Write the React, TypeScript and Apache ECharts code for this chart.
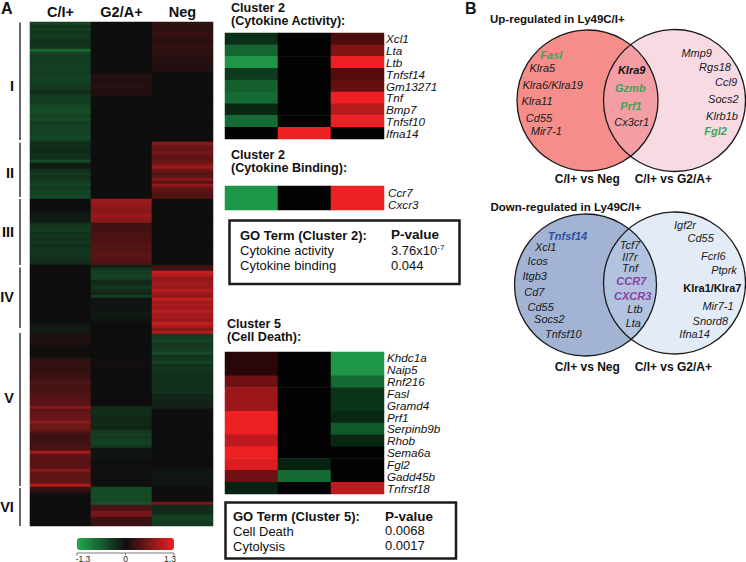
import React, { useEffect, useRef } from "react";
import * as echarts from "echarts";

const FONT = "'Liberation Sans', Arial, sans-serif";

// ---- Main heatmap: one value per row (top to bottom), by cluster ----
const mainColumns = ["C/I+", "G2/A+", "Neg"];
const c1I = [-0.45,-0.32,-0.42,-0.32,-0.4,-0.33,-0.28,-0.32,-0.33,-0.72,-0.42,-0.38,-0.4,-0.4,-0.38,-0.42,-0.4,-0.4,-0.45,-0.42,-0.42,-0.36,-0.33,-0.25,-0.36,-0.4,-0.4,-0.42,-0.48,-0.52,-0.5,-0.42,-0.52,-0.4,-0.42,-0.45,-0.42,-0.45,-0.48,-0.42];
const c1II = [-0.25,-0.28,-0.25,-0.22,-0.28,-0.28,-0.48,-0.12,-0.12,-0.28,-0.34,-0.3,-0.32,-0.38,-0.45,-0.36,-0.45,-0.45,-0.48];
const c1III = [0,0,0,0,-0.04,-0.08,-0.1,-0.14,-0.3,-0.34,-0.38,-0.3,-0.34,-0.3,-0.34,-0.3,-0.3,-0.33,-0.33,-0.3,-0.25,-0.25];
const c1IV = [0,0,0,0,0,0,0,0,0,0,0,0,0,0,0,0,0,0,0,-0.06,-0.1,-0.12,-0.08];
const c1V = [0.1,0.12,0.1,0.08,0.02,0.02,0.02,0.02,0.18,0.2,0.22,0.2,0.22,0.26,0.24,0.34,0.36,0.34,0.32,0.36,0.38,0.42,0.44,0.42,0.72,0.46,0.5,0.52,0.55,0.72,0.55,0.58,0.42,0.3,0.28,0.3,0.28,0.34,0.38,0.88,0.46,0.44,0.44,0.44,0.46,0.7,0.48,0.5,0.46,0.48,0.95];
const c1VI = [0.25,0.2,0,0,0,0,0,0,0,0,0,0,0];
const c2I = [0,0,0,0,0,0,0,0,0,0,0,0,0,0,0,0,0,0.1,0.12,0.1,0.12,0.14,0.12,0.1,0.1,0,0,0,0,0,0,0,0,0,0,0,0,0,0,0];
const c2II = [0,0,0,0,0,0,0,0,0,0,0,0,0,0,0,0,0,0,0];
const c2III = [0.85,0.78,0.74,0.7,0.72,0.82,0.74,0.7,0.28,0.32,0.3,0.34,0.34,0.38,0.38,0.42,0.4,0.42,0.45,0.42,0.42,0.38];
const c2IV = [-0.15,-0.35,-0.38,-0.42,-0.42,-0.22,-0.25,-0.35,-0.25,-0.2,-0.38,-0.05,-0.05,-0.06,-0.05,-0.08,-0.1,-0.08,-0.05,0,0,0,0];
const c2V = [0,0,0,0,0,0,0,0,0.02,0.02,0.03,0,0,0,0,0,0,0,0,0,0,0,0,0,-0.22,-0.26,-0.26,-0.22,-0.18,-0.22,-0.22,-0.18,-0.34,-0.38,-0.36,-0.42,-0.42,-0.36,-0.05,-0.07,-0.05,-0.05,-0.02,-0.02,-0.02,-0.02,-0.02,-0.02,-0.02,-0.02,-0.02];
const c2VI = [-0.48,-0.52,-0.5,-0.52,-0.48,-0.56,0.34,0.38,0.62,0.58,0.3,0.26,0.26];
const c3I = [0.2,0.17,0.19,0.2,0.24,0.17,0.16,0.2,0.24,0.17,0.16,0.16,0.13,0.13,0.13,0.1,0.1,0,0,0,0,0,0,0,0,0,0,0,0,0,0,0,0,0,0,0,0,0,0,0];
const c3II = [0.72,0.56,0.48,0.6,0.5,0.46,0.5,0.65,0.85,0.56,0.42,0.42,0.7,0.42,0.74,0.5,0.46,0.38,0.42];
const c3III = [0,0,0,0,0,0,0,0,0,0,0,0,0,0,0,0,0,0,0,0,0,0];
const c3IV = [0.28,0.3,1.1,0.95,0.75,0.82,0.86,0.78,0.95,0.82,0.78,1.05,0.85,0.9,0.82,1.0,0.86,0.9,0.78,1.05,0.9,0.7,0.95];
const c3V = [-0.36,-0.4,-0.44,-0.34,-0.36,-0.4,-0.5,-0.3,-0.34,-0.44,-0.3,-0.34,-0.3,-0.27,-0.27,-0.27,-0.3,-0.27,-0.27,-0.3,-0.2,-0.2,-0.17,-0.17,-0.15,0,0,0,0,0,0,0,0,0,0,0,0,0,0,0,0,0,0,0,0,-0.06,-0.06,-0.08,-0.06,-0.06,-0.06];
const c3VI = [0,0,0,0,0,0.6,-0.22,-0.26,-0.22,-0.36,-0.42,-0.4,-0.36];

// ---- Gene-level heatmaps ----
const activityGenes = ["Xcl1","Lta","Ltb","Tnfsf14","Gm13271","Tnf","Bmp7","Tnfsf10","Ifna14"];
const activityC = [-0.35,-0.8,-1.2,-0.45,-0.75,-0.85,-0.3,-0.85,0];
const activityG = [0,0,0,0,0,0,0,0,1.3];
const activityN = [0.4,0.7,1.3,0.45,0.55,1.3,1.0,1.3,0];

const bindingGenes = ["Ccr7","Cxcr3"];
const bindingC = [-1.2,-1.2];
const bindingG = [0,0];
const bindingN = [1.3,1.3];

const deathGenes = ["Khdc1a","Naip5","Rnf216","Fasl","Gramd4","Prf1","Serpinb9b","Rhob","Sema6a","Fgl2","Gadd45b","Tnfrsf18"];
const deathC = [0.2,0.2,0.6,0.85,0.85,1.3,1.3,1.05,1.3,1.2,0.6,-0.25];
const deathG = [0,0,0,0,0,0,0,0,0,-0.25,-0.85,0];
const deathN = [-1.2,-1.2,-0.85,-0.4,-0.4,-0.3,-0.7,-0.3,0,0,0,1.05];

// ---- Layout tables for annotation text ----
type T = [string, number, number];
const clusterRoman: T[] = [["I",12,86],["II",10,173],["III",8,232],["IV",7,297],["V",9,398],["VI",7,507]];
const sideBars = [[22.5,140],[142.7,197],[199,265],[267.5,328],[333,486],[488,526]];

const upLeft: T[] = [["Klra5",217,203],["Klra6/Klra19",248,256],["Klra11",201,304],["Cd55",207,353],["Mir7-1",229,393],["Cx3cr1",485,366],["Mmp9",680,158],["Rgs18",735,201],["Ccl9",768,245],["Socs2",760,296],["Klrb1b",756,349]];
const upGreen: T[] = [["Fasl",244,165],["Gzmb",481,265],["Prf1",483,318],["Fgl2",737,394]];
const upBlack: T[] = [["Klra9",485,211]];
const downPlain: T[] = [["Xcl1",227,172],["Icos",203,214],["Itgb3",194,259],["Cd7",193,307],["Cd55",212,351],["Socs2",238,388],["Tnfsf10",280,431],["Tcf7",480,165],["Il7r",480,200],["Tnf",480,234],["Ltb",495,358],["Lta",490,400],["Igf2r",645,106],["Cd55",692,144],["Fcrl6",730,197],["Ptprk",762,241],["Mir7-1",744,349],["Snord8",721,392],["Ifna14",674,431]];
const downPurple: T[] = [["CCR7",484,273],["CXCR3",488,317]];

function rows(cols: number[][]) {
  const out: number[][] = [];
  cols.forEach((col, c) => col.forEach((v, r) => out.push([c, r, v])));
  return out;
}

function heatGrid(
  index: number,
  box: { left: number; top: number; width: number; height: number },
  labels: string[],
  cols: number[][],
  margin: number
) {
  return {
    grid: { ...box, containLabel: false },
    xAxis: {
      type: "category", gridIndex: index, data: mainColumns, position: "top",
      axisLine: { show: false }, axisTick: { show: false }, splitLine: { show: false },
      axisLabel: { show: index === 0, margin: 3, fontFamily: FONT, fontWeight: "bold", fontSize: 14.5, color: "#111" },
    },
    yAxis: {
      type: "category", gridIndex: index, data: labels, inverse: true, position: "right",
      axisLine: { show: false }, axisTick: { show: false }, splitLine: { show: false },
      axisLabel: { show: index !== 0, interval: 0, margin, fontFamily: FONT, fontStyle: "italic", fontSize: 11.7, color: "#111" },
    },
    series: {
      type: "heatmap", xAxisIndex: index, yAxisIndex: index, data: rows(cols),
      progressive: 0, emphasis: { disabled: true },
    },
  };
}

function txt(text: string, x: number, y: number, font: string, fill = "#111", align = "left", lineHeight?: number) {
  return { type: "text", x, y, silent: true, style: { text, x: 0, y: 0, font, fill, align, verticalAlign: "middle", lineHeight } };
}

export default function App() {
  const ref = useRef<HTMLDivElement>(null);
  useEffect(() => {
    const chart = echarts.init(ref.current!, undefined, { renderer: "svg" });
    const mainRows = [...c1I, ...c1II, ...c1III, ...c1IV, ...c1V, ...c1VI].map((_, i) => String(i));
    const g = [
      heatGrid(0, { left: 30, top: 22, width: 183, height: 504 }, mainRows, [
        [...c1I, ...c1II, ...c1III, ...c1IV, ...c1V, ...c1VI],
        [...c2I, ...c2II, ...c2III, ...c2IV, ...c2V, ...c2VI],
        [...c3I, ...c3II, ...c3III, ...c3IV, ...c3V, ...c3VI],
      ], 0),
      heatGrid(1, { left: 225, top: 33, width: 159, height: 106 }, activityGenes, [activityC, activityG, activityN], 2),
      heatGrid(2, { left: 225, top: 186, width: 159, height: 24 }, bindingGenes, [bindingC, bindingG, bindingN], 4),
      heatGrid(3, { left: 225, top: 352, width: 159, height: 142 }, deathGenes, [deathC, deathG, deathN], 3),
    ];

    const B = `bold 13px ${FONT}`;
    const H = `bold 12.6px ${FONT}`;
    const N = `13px ${FONT}`;
    const I = `italic 11px ${FONT}`;
    const BI = `italic bold 11px ${FONT}`;
    const zu = (t: T, font: string, fill = "#1a1a1a") => txt(t[0], 470 + t[1] / 3, t[2] / 3, font, fill, "center");
    const zd = (t: T, font: string, fill = "#1a1a1a") => txt(t[0], 470 + t[1] / 3, 190 + t[2] / 3, font, fill, "center");
    const circle = (cx: number, cy: number, r: number, fill: string, stroke = "none", lineWidth = 0) => ({
      type: "circle", silent: true, shape: { cx, cy, r }, style: { fill, stroke, lineWidth },
    });
    const box = (x: number, y: number, width: number, height: number) => ({
      type: "rect", silent: true, shape: { x, y, width, height }, style: { fill: "#fff", stroke: "#1a1a1a", lineWidth: 2.5 },
    });
    const GREEN = "#3aa655";

    const graphics: any[] = [
      txt("A", 1, 8, `bold 16px ${FONT}`),
      txt("B", 465, 8, `bold 16px ${FONT}`),
      ...clusterRoman.map((t) => txt(t[0], t[1], t[2], `bold 14.5px ${FONT}`, "#111", "center")),
      ...sideBars.map((b) => ({ type: "line", silent: true, shape: { x1: 20, y1: b[0], x2: 20, y2: b[1] }, style: { stroke: "#333", lineWidth: 1.5 } })),
      txt("Cluster 2\n(Cytokine Activity):", 231, 14.5, H, "#111", "left", 13),
      txt("Cluster 2\n(Cytokine Binding):", 231, 161.5, H, "#111", "left", 13),
      txt("Cluster 5\n(Cell Death):", 227, 330.5, H, "#111", "left", 13),
      box(229.5, 220.5, 230, 63.5),
      txt("GO Term (Cluster 2):", 240, 235, B), txt("P-value", 391, 234.5, `bold 13.5px ${FONT}`),
      txt("Cytokine activity", 240, 250, N), txt("Cytokine binding", 240, 265.5, N),
      { type: "text", x: 391, y: 250, silent: true, style: { text: "3.76x10{s|-7}", font: N, fill: "#111", verticalAlign: "middle", rich: { s: { font: `8px ${FONT}`, fill: "#111", verticalAlign: "top", padding: [0,0,4,0] } } } },
      txt("0.044", 391, 265, N),
      box(225.5, 502.5, 230.5, 56),
      txt("GO Term (Cluster 5):", 233, 516, B), txt("P-value", 385, 516, `bold 13.5px ${FONT}`),
      txt("Cell Death", 233, 531, N), txt("Cytolysis", 233, 546, N),
      txt("0.0068", 385, 530.5, N), txt("0.0017", 385, 545.5, N),

      // Legend bracket and labels
      { type: "polyline", silent: true, shape: { points: [[77,556],[77,553],[174,553],[174,556]] }, style: { stroke: "#444", fill: "none", lineWidth: 0.7 } },
      { type: "line", silent: true, shape: { x1: 125.5, y1: 553, x2: 125.5, y2: 555 }, style: { stroke: "#444", lineWidth: 0.7 } },
      txt("-1.3", 83, 558.5, `8.5px ${FONT}`, "#222", "center"),
      txt("0", 125.7, 558.5, `8.5px ${FONT}`, "#222", "center"),
      txt("1.3", 170, 558.5, `8.5px ${FONT}`, "#222", "center"),

      // Venn: up
      txt("Up-regulated in Ly49C/I+", 490, 19, `bold 11.5px ${FONT}`),
      circle(587.5, 100.5, 70.5, "#f58d8b"),
      circle(674.5, 100.5, 71, "rgba(240,178,193,0.47)"),
      circle(587.5, 100.5, 70.5, "none", "#1a1a1a", 1.3),
      circle(674.5, 100.5, 71, "none", "#1a1a1a", 1.3),
      ...upLeft.map((t) => zu(t, I)),
      ...upGreen.map((t) => zu(t, BI, GREEN)),
      ...upBlack.map((t) => zu(t, BI, "#111")),
      txt("C/I+ vs Neg", 470 + 352 / 3, 179, `bold 12px ${FONT}`, "#111", "center"),
      txt("C/I+ vs G2/A+", 470 + 610 / 3, 179, `bold 12px ${FONT}`, "#111", "center"),

      // Venn: down
      txt("Down-regulated in Ly49C/I+", 490.5, 206.5, `bold 11.5px ${FONT}`),
      circle(585.5, 285, 71, "#a2b3d3"),
      circle(674.5, 283, 71, "rgba(196,212,236,0.47)"),
      circle(585.5, 285, 71, "none", "#1a1a1a", 1.3),
      circle(674.5, 283, 71, "none", "#1a1a1a", 1.3),
      ...downPlain.map((t) => zd(t, I)),
      ...downPurple.map((t) => zd(t, BI, "#8a3fa3")),
      zd(["Tnfsf14", 293, 138], BI, "#2c4fa3"),
      zd(["Klra1/Klra7", 727, 295], `bold 11px ${FONT}`, "#111"),
      txt("C/I+ vs Neg", 470 + 352 / 3, 366.5, `bold 12px ${FONT}`, "#111", "center"),
      txt("C/I+ vs G2/A+", 470 + 610 / 3, 366.5, `bold 12px ${FONT}`, "#111", "center"),
    ];

    chart.setOption({
      animation: false,
      backgroundColor: "#fff",
      grid: g.map((x) => x.grid),
      xAxis: g.map((x) => x.xAxis),
      yAxis: g.map((x) => x.yAxis),
      series: g.map((x) => x.series),
      visualMap: [
        {
          type: "continuous", min: -1.3, max: 1.3, seriesIndex: [0], orient: "horizontal",
          left: 77, top: 538, itemWidth: 12, itemHeight: 97, padding: 0, calculable: false,
          text: ["", ""], showLabel: false, hoverLink: false,
          inRange: { color: ["#22ab4e", "#0e0e0e", "#ee2024"] },
        },
        {
          type: "continuous", min: -1.3, max: 1.3, seriesIndex: [1, 2, 3], show: false,
          inRange: { color: ["#1fa24e", "#030303", "#ee2024"] },
        },
      ],
      graphic: { elements: graphics },
    });
    return () => chart.dispose();
  }, []);
  return <div ref={ref} style={{ position: "fixed", left: 0, top: 0, width: 746, height: 562 }} />;
}
